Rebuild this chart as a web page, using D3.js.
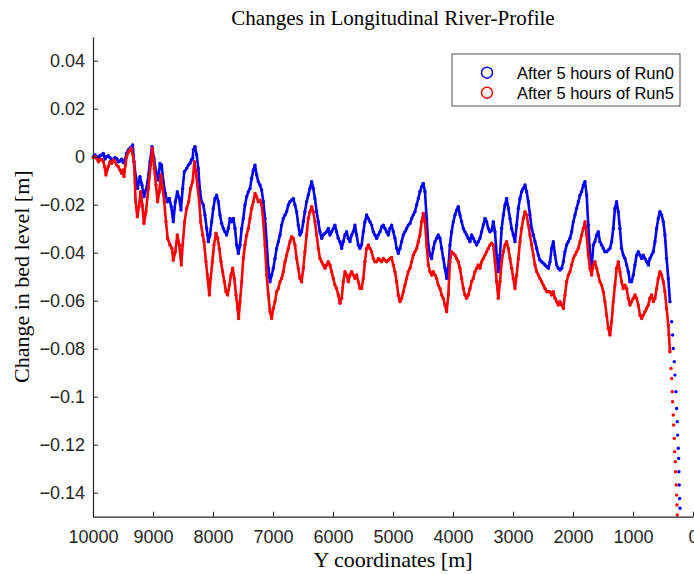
<!DOCTYPE html>
<html><head><meta charset="utf-8">
<script src="https://cdn.jsdelivr.net/npm/d3@7"></script>
<style>body{margin:0;background:#fff}svg{display:block}</style>
</head><body><svg id="c" width="694" height="574"></svg>
<script>
const titleText = "Changes in Longitudinal River-Profile";
const xLabel = "Y coordinates [m]";
const yLabel = "Change in bed level [m]";
const seriesNames = ["After 5 hours of Run0", "After 5 hours of Run5"];
const seriesColors = ["#0000ff", "#ff0000"];
const xTicks = [10000, 9000, 8000, 7000, 6000, 5000, 4000, 3000, 2000, 1000, 0];
const yTicks = [0.04, 0.02, 0, -0.02, -0.04, -0.06, -0.08, -0.1, -0.12, -0.14];
const yTickLabels = ["0.04", "0.02", "0", "\u22120.02", "\u22120.04", "\u22120.06", "\u22120.08", "\u22120.1", "\u22120.12", "\u22120.14"];

// Run0 (blue): [Y coordinate, change in bed level]
const run0 = [
[9995,0.0000],[9967,0.0007],[9939,0.0000],[9911,-0.0007],[9884,0.0004],[9856,0.0007],[9828,0.0014],[9800,-0.0010],[9773,0.0000],[9745,0.0004],[9717,-0.0004],[9690,-0.0014],[9662,-0.0010],[9634,-0.0004],[9606,-0.0007],[9578,-0.0021],[9551,-0.0018],[9523,-0.0010],[9495,-0.0024],[9467,-0.0014],[9439,0.0014],[9412,0.0028],[9373,0.0038],[9339,0.0049],[9317,-0.0021],[9284,-0.0090],[9256,-0.0132],[9217,-0.0083],[9184,-0.0118],[9151,-0.0167],[9117,-0.0139],[9089,-0.0104],[9050,-0.0021],[9017,0.0042],[8984,-0.0007],[8950,-0.0063],[8912,-0.0097],[8884,-0.0028],[8856,-0.0035],[8828,-0.0104],[8795,-0.0153],[8762,-0.0188],[8728,-0.0174],[8695,-0.0208],[8662,-0.0271],[8628,-0.0188],[8595,-0.0146],[8562,-0.0174],[8534,-0.0222],[8506,-0.0132],[8478,-0.0063],[8439,-0.0049],[8411,-0.0035],[8384,-0.0028],[8361,-0.0014],[8339,-0.0007],
[8328,0.0028],[8300,0.0042],[8272,0.0007],[8245,-0.0049],[8217,-0.0146],[8189,-0.0188],[8161,-0.0201],[8134,-0.0243],[8106,-0.0299],[8078,-0.0354],[8050,-0.0326],[8022,-0.0271],[7995,-0.0215],[7967,-0.0174],[7939,-0.0160],[7911,-0.0188],[7884,-0.0243],[7856,-0.0278],[7828,-0.0299],[7800,-0.0313],[7772,-0.0326],[7745,-0.0299],[7717,-0.0257],[7689,-0.0271],[7661,-0.0257],[7633,-0.0299],[7606,-0.0368],[7578,-0.0403],[7550,-0.0368],[7522,-0.0299],[7495,-0.0257],[7467,-0.0201],[7439,-0.0167],[7411,-0.0146],[7383,-0.0132],[7356,-0.0090],[7328,-0.0056],[7300,-0.0035],[7272,-0.0076],[7245,-0.0104],[7217,-0.0118],[7189,-0.0139],[7161,-0.0188],[7134,-0.0257],[7106,-0.0354],[7078,-0.0465],[7050,-0.0521],[7022,-0.0493],[6995,-0.0465],[6967,-0.0424],[6939,-0.0382],[6911,-0.0354],[6883,-0.0326],[6856,-0.0285],[6828,-0.0257],[6800,-0.0243],[6772,-0.0229],[6745,-0.0201],[6717,-0.0188],[6690,-0.0181],
[6662,-0.0174],[6634,-0.0201],[6606,-0.0229],[6579,-0.0285],[6551,-0.0326],[6523,-0.0313],[6495,-0.0271],[6468,-0.0229],[6440,-0.0188],[6412,-0.0160],[6384,-0.0132],[6356,-0.0104],[6329,-0.0132],[6301,-0.0174],[6273,-0.0229],[6245,-0.0271],[6218,-0.0313],[6190,-0.0340],[6162,-0.0326],[6134,-0.0319],[6106,-0.0313],[6079,-0.0299],[6051,-0.0326],[6023,-0.0313],[5995,-0.0299],[5968,-0.0285],[5940,-0.0313],[5912,-0.0340],[5884,-0.0354],[5856,-0.0382],[5829,-0.0354],[5801,-0.0326],[5773,-0.0313],[5745,-0.0340],[5717,-0.0354],[5690,-0.0326],[5662,-0.0313],[5634,-0.0285],[5606,-0.0326],[5579,-0.0368],[5551,-0.0382],[5523,-0.0368],[5495,-0.0313],[5468,-0.0271],[5440,-0.0243],[5412,-0.0257],[5384,-0.0271],[5356,-0.0285],[5329,-0.0313],[5301,-0.0326],[5273,-0.0340],[5245,-0.0326],[5217,-0.0313],[5190,-0.0292],[5162,-0.0285],[5134,-0.0299],[5106,-0.0313],[5079,-0.0326],[5051,-0.0299],[5023,-0.0285],
[4995,-0.0313],[4967,-0.0340],[4939,-0.0382],[4912,-0.0403],[4884,-0.0382],[4856,-0.0354],[4828,-0.0326],[4801,-0.0313],[4773,-0.0299],[4745,-0.0285],[4717,-0.0278],[4689,-0.0257],[4662,-0.0243],[4634,-0.0229],[4606,-0.0201],[4578,-0.0174],[4551,-0.0146],[4523,-0.0125],[4495,-0.0111],[4467,-0.0146],[4439,-0.0257],[4412,-0.0368],[4384,-0.0410],[4356,-0.0424],[4328,-0.0382],[4301,-0.0354],[4273,-0.0340],[4245,-0.0326],[4217,-0.0340],[4189,-0.0382],[4162,-0.0424],[4134,-0.0465],[4106,-0.0507],[4078,-0.0465],[4051,-0.0368],[4023,-0.0313],[3995,-0.0271],[3967,-0.0243],[3939,-0.0222],[3912,-0.0208],[3884,-0.0243],[3856,-0.0271],[3828,-0.0299],[3801,-0.0313],[3773,-0.0326],[3745,-0.0340],[3717,-0.0354],[3689,-0.0326],[3662,-0.0340],[3634,-0.0354],[3606,-0.0368],[3578,-0.0354],[3551,-0.0340],[3523,-0.0313],[3495,-0.0285],[3467,-0.0257],[3439,-0.0271],[3412,-0.0299],[3384,-0.0313],[3356,-0.0306],
[3328,-0.0271],[3300,-0.0313],[3272,-0.0410],[3245,-0.0479],[3217,-0.0410],[3189,-0.0299],[3161,-0.0243],[3134,-0.0201],[3106,-0.0174],[3078,-0.0215],[3050,-0.0257],[3022,-0.0299],[2995,-0.0326],[2967,-0.0354],[2939,-0.0285],[2911,-0.0215],[2884,-0.0174],[2856,-0.0146],[2828,-0.0132],[2800,-0.0118],[2772,-0.0146],[2745,-0.0188],[2717,-0.0243],[2689,-0.0299],[2661,-0.0326],[2633,-0.0354],[2606,-0.0382],[2578,-0.0410],[2550,-0.0431],[2522,-0.0438],[2495,-0.0444],[2467,-0.0451],[2439,-0.0458],[2411,-0.0465],[2383,-0.0438],[2356,-0.0382],[2328,-0.0354],[2300,-0.0410],[2272,-0.0451],[2245,-0.0465],[2217,-0.0472],[2189,-0.0465],[2161,-0.0438],[2134,-0.0396],[2106,-0.0368],[2078,-0.0354],[2050,-0.0340],[2022,-0.0313],[1995,-0.0271],[1967,-0.0243],[1939,-0.0215],[1911,-0.0188],[1883,-0.0160],[1856,-0.0146],[1828,-0.0118],[1800,-0.0104],[1772,-0.0160],[1745,-0.0285],[1717,-0.0410],[1689,-0.0465],
[1662,-0.0368],[1634,-0.0354],[1606,-0.0326],[1579,-0.0313],[1551,-0.0354],[1523,-0.0368],[1495,-0.0382],[1468,-0.0396],[1440,-0.0396],[1412,-0.0389],[1384,-0.0382],[1356,-0.0354],[1329,-0.0299],[1301,-0.0215],[1273,-0.0188],[1245,-0.0229],[1218,-0.0299],[1190,-0.0382],[1162,-0.0410],[1134,-0.0424],[1106,-0.0451],[1079,-0.0479],[1051,-0.0521],[1023,-0.0521],[995,-0.0493],[968,-0.0451],[940,-0.0410],[912,-0.0396],[884,-0.0410],[856,-0.0424],[829,-0.0410],[801,-0.0424],[773,-0.0438],[745,-0.0451],[718,-0.0424],[690,-0.0410],[662,-0.0396],[634,-0.0354],[606,-0.0299],[579,-0.0257],[551,-0.0229],[523,-0.0243],[495,-0.0271],[468,-0.0326],
[440,-0.0424],[412,-0.0507],[384,-0.0604],[356,-0.0688],[340,-0.0743],[329,-0.0799],[312,-0.0854],[301,-0.0910],[284,-0.0979],[273,-0.1049],[262,-0.1104],[256,-0.1160],[245,-0.1215],[240,-0.1257],[234,-0.1313],[229,-0.1368],[223,-0.1424],[217,-0.1465]
];

// Run5 (red): [Y coordinate, change in bed level]
const run5 = [
[9995,-0.0004],[9967,0.0000],[9939,-0.0007],[9911,-0.0021],[9884,-0.0014],[9856,-0.0010],[9828,-0.0021],[9806,-0.0042],[9784,-0.0076],[9765,-0.0055],[9745,-0.0042],[9717,-0.0021],[9689,-0.0028],[9662,-0.0014],[9634,-0.0021],[9606,-0.0035],[9578,-0.0042],[9551,-0.0055],[9523,-0.0069],[9495,-0.0055],[9484,-0.0083],[9460,-0.0035],[9439,0.0000],[9406,0.0021],[9362,0.0035],[9317,-0.0021],[9289,-0.0188],[9262,-0.0250],[9234,-0.0208],[9206,-0.0146],[9178,-0.0201],[9151,-0.0278],[9117,-0.0229],[9078,-0.0132],[9039,-0.0035],[9012,0.0035],[8978,-0.0049],[8950,-0.0118],[8923,-0.0188],[8895,-0.0146],[8867,-0.0076],[8839,-0.0132],[8812,-0.0188],[8784,-0.0271],[8756,-0.0340],[8717,-0.0368],[8684,-0.0382],[8662,-0.0431],[8628,-0.0396],[8595,-0.0326],[8562,-0.0368],[8528,-0.0451],[8506,-0.0368],[8473,-0.0271],[8439,-0.0215],[8406,-0.0188],[8373,-0.0132],[8339,-0.0104],
[8311,-0.0021],[8286,-0.0060],[8261,-0.0118],[8228,-0.0188],[8206,-0.0271],[8172,-0.0326],[8150,-0.0354],[8117,-0.0438],[8095,-0.0493],[8061,-0.0576],[8039,-0.0507],[8011,-0.0438],[7984,-0.0368],[7950,-0.0319],[7922,-0.0340],[7895,-0.0382],[7867,-0.0438],[7839,-0.0479],[7811,-0.0521],[7784,-0.0563],[7756,-0.0576],[7728,-0.0535],[7700,-0.0493],[7672,-0.0465],[7645,-0.0507],[7617,-0.0576],[7589,-0.0632],[7572,-0.0674],[7550,-0.0604],[7522,-0.0521],[7495,-0.0424],[7467,-0.0368],[7439,-0.0326],[7411,-0.0299],[7383,-0.0257],[7356,-0.0215],[7328,-0.0188],[7300,-0.0153],[7272,-0.0167],[7245,-0.0188],[7217,-0.0181],[7189,-0.0201],[7161,-0.0271],[7134,-0.0368],[7106,-0.0493],[7078,-0.0576],[7050,-0.0646],[7022,-0.0674],[6995,-0.0632],[6967,-0.0604],[6939,-0.0563],[6911,-0.0549],[6883,-0.0521],[6856,-0.0507],[6828,-0.0479],[6800,-0.0438],[6772,-0.0410],[6745,-0.0382],[6717,-0.0354],[6690,-0.0333],
[6662,-0.0340],[6634,-0.0368],[6606,-0.0424],[6579,-0.0465],[6551,-0.0507],[6523,-0.0521],[6495,-0.0465],[6468,-0.0396],[6440,-0.0326],[6412,-0.0257],[6384,-0.0229],[6356,-0.0208],[6329,-0.0229],[6301,-0.0271],[6273,-0.0326],[6245,-0.0382],[6218,-0.0424],[6190,-0.0438],[6162,-0.0451],[6134,-0.0465],[6106,-0.0451],[6079,-0.0438],[6051,-0.0451],[6023,-0.0479],[5995,-0.0507],[5968,-0.0535],[5940,-0.0549],[5912,-0.0576],[5884,-0.0611],[5856,-0.0590],[5829,-0.0521],[5801,-0.0479],[5773,-0.0493],[5745,-0.0521],[5717,-0.0493],[5690,-0.0479],[5662,-0.0493],[5634,-0.0507],[5606,-0.0493],[5579,-0.0521],[5551,-0.0549],[5523,-0.0549],[5495,-0.0507],[5468,-0.0438],[5440,-0.0382],[5412,-0.0368],[5384,-0.0382],[5356,-0.0396],[5329,-0.0424],[5301,-0.0438],[5273,-0.0438],[5245,-0.0424],[5217,-0.0431],[5190,-0.0438],[5162,-0.0424],[5134,-0.0431],[5106,-0.0438],[5079,-0.0431],[5051,-0.0424],[5023,-0.0420],
[4995,-0.0451],[4967,-0.0479],[4939,-0.0521],[4912,-0.0576],[4884,-0.0604],[4856,-0.0590],[4828,-0.0563],[4801,-0.0535],[4773,-0.0507],[4745,-0.0479],[4717,-0.0465],[4689,-0.0438],[4662,-0.0410],[4634,-0.0396],[4606,-0.0382],[4578,-0.0354],[4551,-0.0326],[4523,-0.0271],[4495,-0.0236],[4467,-0.0271],[4439,-0.0368],[4412,-0.0451],[4384,-0.0479],[4356,-0.0493],[4328,-0.0479],[4301,-0.0493],[4273,-0.0507],[4245,-0.0535],[4217,-0.0549],[4189,-0.0576],[4162,-0.0590],[4134,-0.0618],[4106,-0.0646],[4078,-0.0576],[4051,-0.0438],[4023,-0.0396],[3995,-0.0403],[3967,-0.0410],[3939,-0.0424],[3912,-0.0438],[3884,-0.0465],[3856,-0.0507],[3828,-0.0549],[3801,-0.0576],[3773,-0.0590],[3745,-0.0576],[3717,-0.0549],[3689,-0.0521],[3662,-0.0507],[3634,-0.0479],[3606,-0.0465],[3578,-0.0451],[3551,-0.0465],[3523,-0.0438],[3495,-0.0424],[3467,-0.0410],[3439,-0.0396],[3412,-0.0382],[3384,-0.0368],[3356,-0.0360],
[3328,-0.0368],[3300,-0.0438],[3272,-0.0521],[3245,-0.0590],[3217,-0.0521],[3189,-0.0438],[3161,-0.0396],[3134,-0.0368],[3106,-0.0354],[3078,-0.0382],[3050,-0.0424],[3022,-0.0465],[2995,-0.0507],[2967,-0.0549],[2939,-0.0493],[2911,-0.0424],[2884,-0.0354],[2856,-0.0299],[2828,-0.0257],[2800,-0.0229],[2772,-0.0243],[2745,-0.0285],[2717,-0.0326],[2689,-0.0368],[2661,-0.0410],[2633,-0.0451],[2606,-0.0479],[2578,-0.0493],[2550,-0.0507],[2522,-0.0521],[2495,-0.0535],[2467,-0.0549],[2439,-0.0563],[2411,-0.0563],[2383,-0.0563],[2356,-0.0576],[2328,-0.0563],[2300,-0.0590],[2272,-0.0604],[2245,-0.0618],[2217,-0.0604],[2189,-0.0618],[2161,-0.0632],[2134,-0.0576],[2106,-0.0521],[2078,-0.0493],[2050,-0.0479],[2022,-0.0451],[1995,-0.0424],[1967,-0.0410],[1939,-0.0396],[1911,-0.0382],[1883,-0.0354],[1856,-0.0326],[1828,-0.0299],[1800,-0.0271],[1772,-0.0326],[1745,-0.0410],[1717,-0.0465],[1689,-0.0493],
[1662,-0.0451],[1634,-0.0438],[1606,-0.0465],[1579,-0.0493],[1551,-0.0521],[1523,-0.0535],[1495,-0.0563],[1468,-0.0604],[1440,-0.0660],[1412,-0.0715],[1384,-0.0743],[1356,-0.0688],[1329,-0.0604],[1301,-0.0535],[1273,-0.0465],[1245,-0.0438],[1218,-0.0479],[1190,-0.0521],[1162,-0.0549],[1134,-0.0535],[1106,-0.0549],[1079,-0.0590],[1051,-0.0618],[1023,-0.0604],[995,-0.0590],[968,-0.0576],[940,-0.0590],[912,-0.0618],[884,-0.0660],[856,-0.0674],[829,-0.0660],[801,-0.0646],[773,-0.0632],[745,-0.0618],[718,-0.0590],[690,-0.0576],[662,-0.0604],[634,-0.0590],[606,-0.0549],[579,-0.0507],[551,-0.0479],[523,-0.0493],[495,-0.0521],[468,-0.0563],
[440,-0.0632],[412,-0.0701],[401,-0.0743],[384,-0.0813],[367,-0.0882],[356,-0.0924],[345,-0.0979],[340,-0.1021],[329,-0.1076],[323,-0.1118],[312,-0.1174],[306,-0.1229],[295,-0.1271],[290,-0.1313],[279,-0.1368],[273,-0.1410],[268,-0.1451],[262,-0.1493]
];

const plot = {left: 93, right: 693, top: 36.7, bottom: 516.7};
const svg = d3.select("#c");
const axisColor = "#262626";
const bandLimit = 380; // the steep tail below this Y coordinate shows as separate dots

const x = d3.scaleLinear().domain([10000, 0]).range([plot.left, plot.right]);
const y = d3.scaleLinear().domain([-0.15, 0.05]).range([plot.bottom, plot.top]);

const line = d3.line().x(d => x(d[0])).y(d => y(d[1]));
[run0, run5].forEach((data, i) => {
  const g = svg.append("g");
  g.append("path").datum(data.filter(d => d[0] >= bandLimit))
    .attr("d", line).attr("fill", "none").attr("stroke", seriesColors[i])
    .attr("stroke-width", 2.6).attr("stroke-linejoin", "round").attr("stroke-linecap", "round");
  g.selectAll("circle").data(data).join("circle")
    .attr("cx", d => x(d[0])).attr("cy", d => y(d[1]))
    .attr("r", 1.7).attr("fill", seriesColors[i]);
});

const xAxis = d3.axisBottom(x).tickValues(xTicks).tickFormat(d3.format("d"))
  .tickSizeInner(-5).tickSizeOuter(0).tickPadding(14);
const gx = svg.append("g").attr("transform", `translate(0,${plot.bottom})`).call(xAxis);
const yAxis = d3.axisLeft(y).tickValues(yTicks).tickFormat((d, i) => yTickLabels[i])
  .tickSizeInner(-5).tickSizeOuter(0).tickPadding(8);
const gy = svg.append("g").attr("transform", `translate(${plot.left},0)`).call(yAxis);
[gx, gy].forEach(g => {
  g.select(".domain").attr("stroke", axisColor).attr("stroke-width", 1.2);
  g.selectAll(".tick line").attr("stroke", axisColor).attr("stroke-width", 1);
  g.selectAll(".tick text").attr("fill", axisColor)
    .style("font-family", "'Liberation Sans', Arial, sans-serif").style("font-size", "18px");
});

const serif = "'Liberation Serif', 'Times New Roman', serif";
svg.append("text").attr("x", (plot.left + plot.right) / 2).attr("y", 25)
  .attr("text-anchor", "middle").style("font-family", serif).style("font-size", "21px")
  .attr("fill", "#000").text(titleText);
svg.append("text").attr("x", (plot.left + plot.right) / 2).attr("y", 567)
  .attr("text-anchor", "middle").style("font-family", serif).style("font-size", "22px")
  .attr("fill", "#000").text(xLabel);
svg.append("text").attr("transform", `translate(29,${(plot.top + plot.bottom) / 2}) rotate(-90)`)
  .attr("text-anchor", "middle").style("font-family", serif).style("font-size", "22px")
  .attr("fill", "#000").text(yLabel);

const lg = svg.append("g");
lg.append("rect").attr("x", 452).attr("y", 54).attr("width", 228).attr("height", 52)
  .attr("fill", "#fff").attr("stroke", axisColor).attr("stroke-width", 0.8);
seriesNames.forEach((name, i) => {
  const cy = 72.7 + i * 20;
  lg.append("circle").attr("cx", 487).attr("cy", cy).attr("r", 5.5)
    .attr("fill", "none").attr("stroke", seriesColors[i]).attr("stroke-width", 1.5);
  lg.append("text").attr("x", 517).attr("y", cy + 6)
    .style("font-family", "'Liberation Sans', Arial, sans-serif").style("font-size", "16.5px")
    .attr("fill", "#000").text(name);
});
</script></body></html>
